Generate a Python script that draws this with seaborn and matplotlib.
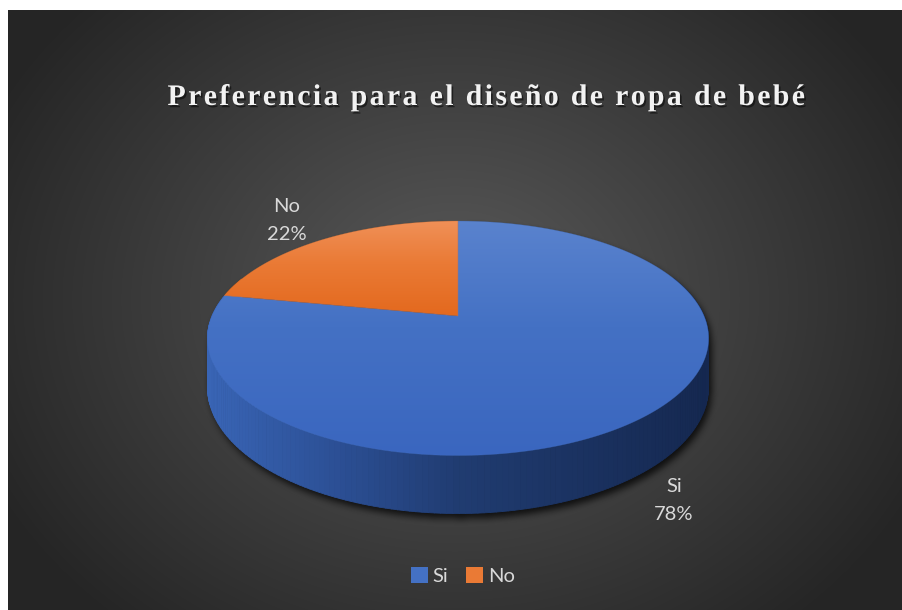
import numpy as np
import matplotlib
matplotlib.use("Agg")
import matplotlib.pyplot as plt
import seaborn as sns
from matplotlib.patches import Polygon, Patch
from matplotlib.collections import PolyCollection
from matplotlib.path import Path
import matplotlib.patheffects as pe
from matplotlib.colors import LinearSegmentedColormap, to_rgb
from matplotlib.font_manager import FontProperties

# ---------------- data ----------------
categories = ["Si", "No"]
values = [78, 22]
pct_labels = ["78%", "22%"]
title_text = "Preferencia para el diseño de ropa de bebé"

# ---------------- style ----------------
sns.set_theme(style="white")
plt.rcParams['font.family'] = ['Lato', 'DejaVu Sans']
top_colors = {"Si": ("#5a83ce", "#4471c4", "#3a66bf"), "No": ("#f09159", "#ea7a35", "#e3681d")}
wall_cmap = LinearSegmentedColormap.from_list(
    "wall", [(0, "#3965b6"), (0.25, "#2c5096"), (0.5, "#203c71"), (1.0, "#152850")])
label_color = "#d9d9d9"

W, H = 903, 610
fig = plt.figure(figsize=(W / 100, H / 100), dpi=100)
fig.patch.set_facecolor("white")
ax = fig.add_axes([0, 0, 1, 1])
ax.set_xlim(0, W)
ax.set_ylim(H, 0)
ax.axis("off")

# ---------------- background (radial gradient) ----------------
bx0, by0 = 8, 10
yy, xx = np.mgrid[by0:H, bx0:W] + 0.5
r = np.sqrt(((xx - 455) / 520) ** 2 + ((yy - 300) / 430) ** 2)
r = np.clip(r, 0, 1)
g = (0x5a * (1 - r) + 0x25 * r) / 255.0
bg = np.dstack([g, g, g])
ax.imshow(bg, extent=(bx0, W, H, by0), origin="upper", interpolation="bilinear", zorder=0)

# ---------------- 3D pie geometry ----------------
cx, cy = 458, 316
R, B, k, D = 246, 113, 0.19, 47


def proj(theta, depth=0.0):
    u, v = np.cos(theta), np.sin(theta)
    s = 1 + k * v
    return cx + R * u / s, cy - B * v / s + depth * D / s


total = float(sum(values))
start = np.pi / 2
bounds = []
a = start
for val in values:
    span = 2 * np.pi * val / total
    bounds.append((a, a - span))  # clockwise
    a -= span

# shadow (rasterised silhouette blurred)
full = np.linspace(0, 2 * np.pi, 400)
gy, gx = np.mgrid[0:H, 0:W] + 0.5
pts = np.column_stack([gx.ravel(), gy.ravel()])
mask = np.zeros(H * W, dtype=bool)
for d in np.linspace(0, 1, 9):
    px, py = proj(full, d)
    mask |= Path(np.column_stack([px + 3, py + 5])).contains_points(pts)
mask = mask.reshape(H, W).astype(float)


def blur(img, rad):
    kern = np.ones(2 * rad + 1) / (2 * rad + 1)
    img = np.apply_along_axis(lambda m: np.convolve(m, kern, mode="same"), 0, img)
    img = np.apply_along_axis(lambda m: np.convolve(m, kern, mode="same"), 1, img)
    return img


sh = blur(blur(mask, 4), 3)
shadow = np.zeros((H, W, 4))
shadow[..., 3] = sh * 0.75
ax.imshow(shadow, extent=(0, W, H, 0), origin="upper", zorder=1)

# walls
quads, cols = [], []
xl, xr = cx - R * 1.02, cx + R * 1.02
for (t0, t1), cat in zip(bounds, categories):
    th = np.linspace(t0, t1, 240)
    for i in range(len(th) - 1):
        a0, a1 = th[i], th[i + 1]
        if np.sin((a0 + a1) / 2) > 0.35:
            continue
        x0t, y0t = proj(a0, 0)
        x1t, y1t = proj(a1, 0)
        x0b, y0b = proj(a0, 1)
        x1b, y1b = proj(a1, 1)
        quads.append([(x0t, y0t), (x1t, y1t), (x1b, y1b), (x0b, y0b)])
        tt = np.clip(((x0t + x1t) / 2 - xl) / (xr - xl), 0, 1)
        if cat == "No":
            cols.append("#b85a1c")
        else:
            cols.append(wall_cmap(tt))
pc = PolyCollection(quads, facecolors=cols, edgecolors=cols, linewidths=0.6, zorder=2)
ax.add_collection(pc)

# top faces with vertical gradient
for (t0, t1), cat in zip(bounds, categories):
    th = np.linspace(t0, t1, 300)
    px, py = proj(th, 0)
    verts = np.vstack([[cx, cy], np.column_stack([px, py])])
    poly = Polygon(verts, closed=True, facecolor="none", edgecolor="none")
    ax.add_patch(poly)
    c0, c1, c2 = [np.array(to_rgb(c)) for c in top_colors[cat]]
    ys = np.linspace(0, 1, 256)[:, None]
    grad = np.where(ys < 0.45, c0 + (c1 - c0) * (ys / 0.45), c1 + (c2 - c1) * ((ys - 0.45) / 0.55))
    grad = np.repeat(grad[:, None, :], 2, axis=1)
    ymin, ymax = verts[:, 1].min(), verts[:, 1].max()
    xmin, xmax = verts[:, 0].min(), verts[:, 0].max()
    im = ax.imshow(grad, extent=(xmin - 2, xmax + 2, ymax + 2, ymin - 2), origin="upper",
                   interpolation="bilinear", zorder=3, aspect="auto")
    im.set_clip_path(poly)
    edge = Polygon(verts, closed=True, facecolor="none", edgecolor=top_colors[cat][1],
                   linewidth=0.4, alpha=0.5, zorder=3.5)
    ax.add_patch(edge)

ax.set_xlim(0, W)
ax.set_ylim(H, 0)

# ---------------- data labels ----------------
label_pos = {"Si": (674, 486), "No": (287, 206)}
for cat, pl in zip(categories, pct_labels):
    x, y = label_pos[cat]
    ax.text(x, y, cat, ha="center", va="center", fontsize=14.5, color=label_color, zorder=5)
    ax.text(x, y + 29, pl, ha="center", va="center", fontsize=14.5, color=label_color, zorder=5)

# ---------------- title (letter-spaced) ----------------
fp = FontProperties(family="Liberation Serif", weight="bold", size=21.5)
renderer = fig.canvas.get_renderer()


def adv(ch):
    w1 = renderer.get_text_width_height_descent("n" + ch + "n", fp, ismath=False)[0]
    w0 = renderer.get_text_width_height_descent("nn", fp, ismath=False)[0]
    return w1 - w0


widths = [adv(c) for c in title_text]
tx0, tx1 = 167.5, 805
natural = sum(widths[:-1]) + renderer.get_text_width_height_descent(title_text[-1], fp, ismath=False)[0]
spacing = (tx1 - tx0 - natural) / (len(title_text) - 1)
xpos = tx0
shadow_fx = [pe.SimplePatchShadow(offset=(1.2, -1.6), shadow_rgbFace="black", alpha=0.5), pe.Normal()]
for ch, w in zip(title_text, widths):
    if ch != " ":
        ax.text(xpos, 105, ch, fontproperties=fp, color="#f2f2f2", ha="left", va="baseline",
                zorder=6, path_effects=shadow_fx)
    xpos += w + spacing

# ---------------- legend ----------------
handles = [Patch(facecolor=top_colors[c][1], edgecolor="none") for c in categories]
leg = ax.legend(handles, categories, loc="center", bbox_to_anchor=(463 / W, 1 - 576 / H),
                ncol=2, frameon=False, fontsize=14.5, labelcolor=label_color,
                handlelength=0.8, handleheight=0.8, handletextpad=0.25, columnspacing=0.9)

fig.savefig("out.png", dpi=100, facecolor="white")
